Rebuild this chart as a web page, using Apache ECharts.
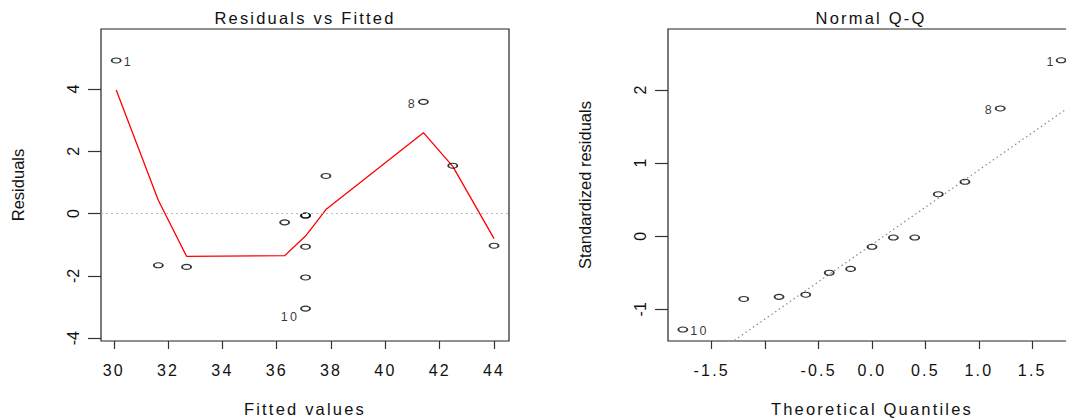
<!DOCTYPE html>
<html>
<head>
<meta charset="utf-8">
<script src="https://cdn.jsdelivr.net/npm/echarts@6/dist/echarts.min.js"></script>
<style>
  html, body { margin: 0; padding: 0; background: #fff; }
  #chart { width: 1066px; height: 419px; }
</style>
</head>
<body>
<div id="chart"></div>
<script>
const obsIds = [1, 2, 3, 4, 5, 6, 7, 8, 9, 10, 11, 12, 13];
const fittedValues = [30.09, 31.64, 32.68, 36.29, 37.06, 37.06, 37.06, 41.40, 37.06, 37.06, 37.81, 42.48, 44.00];
const residuals = [4.92, -1.66, -1.71, -0.28, -0.06, -0.06, -1.06, 3.59, -2.05, -3.05, 1.21, 1.54, -1.03];
const stdResiduals = [2.407, -0.80, -0.83, -0.145, -0.018, -0.018, -0.50, 1.749, -0.858, -1.278, 0.575, 0.745, -0.447];
const labeledIds = [1, 8, 10];

// red smoother on the residual plot
const smoothX = [30.09, 31.64, 32.68, 36.29, 37.06, 37.81, 41.40, 42.48, 44.00];
const smoothY = [3.97, 0.43, -1.37, -1.35, -0.72, 0.13, 2.60, 1.52, -0.80];

// theoretical normal quantiles (sorted)
const theoQuantiles = [-1.77, -1.20, -0.87, -0.62, -0.40, -0.20, 0, 0.20, 0.40, 0.62, 0.87, 1.20, 1.77];

// tick labels
const fittedTicks = [30, 32, 34, 36, 38, 40, 42, 44];
const residTicks = [-4, -2, 0, 2, 4];
const qqXTicks = [-1.5, -1, -0.5, 0, 0.5, 1, 1.5];
const qqXLabels = [-1.5, -0.5, 0, 0.5, 1, 1.5];
const qqYTicks = [-1, 0, 1, 2];

const FONT = "'Liberation Sans', Arial, Helvetica, sans-serif";
const ellipse = 'path://M0,3A5,3,0,1,1,10,3A5,3,0,1,1,0,3Z';
// horizontal text in the original is spread out, rotated text is not
const SPREAD = '2.2px';

// where the id labels sit next to their points
const leftLabelPos = { 1: ['right', [0, 2]], 8: ['left', [1, 2]], 10: ['left', [1, 8]] };
const rightLabelPos = { 1: ['left', [2, 2]], 8: ['left', [1, 2]], 10: ['right', [0, 1]] };

function pointItem(x, y, id, posMap) {
  const item = { value: [x, y] };
  if (labeledIds.indexOf(id) >= 0) {
    item.label = {
      show: true,
      formatter: String(id),
      position: posMap[id][0],
      offset: posMap[id][1],
      distance: 2,
      fontSize: 12.5,
      fontFamily: FONT,
      color: '#000'
    };
  }
  return item;
}

const residData = obsIds.map((id, i) => pointItem(fittedValues[i], residuals[i], id, leftLabelPos));

const order = obsIds.map((id, i) => i).sort((a, b) => stdResiduals[a] - stdResiduals[b]);
const qqData = order.map((idx, k) => pointItem(theoQuantiles[k], stdResiduals[idx], obsIds[idx], rightLabelPos));

// qq line through the quartiles, like qqline()
function quantile(sorted, p) {
  const h = (sorted.length - 1) * p;
  const lo = Math.floor(h);
  return sorted[lo] + (h - lo) * (sorted[Math.min(lo + 1, sorted.length - 1)] - sorted[lo]);
}
const sortedStd = stdResiduals.slice().sort((a, b) => a - b);
const y1 = quantile(sortedStd, 0.25), y2 = quantile(sortedStd, 0.75);
const x1 = -0.6745, x2 = 0.6745;
const qqSlope = (y2 - y1) / (x2 - x1);
const qqIntercept = y1 - qqSlope * x1;
const qqXRange = [-1.909, 1.909];
const qqLine = qqXRange.map(x => [x, qqIntercept + qqSlope * x]);

function valueAxis(gridIndex, min, max, ticks, labels, isY, name, nameGap, fmt) {
  return {
    type: 'value',
    gridIndex: gridIndex,
    min: min,
    max: max,
    name: name,
    nameLocation: 'middle',
    nameGap: nameGap,
    nameRotate: isY ? 90 : 0,
    nameTextStyle: { fontSize: 16.5, color: '#111', fontFamily: FONT },
    axisLine: { show: false, onZero: false },
    splitLine: { show: false },
    axisTick: {
      show: true,
      customValues: ticks,
      length: isY ? 13 : 8,
      lineStyle: { color: '#333', width: 1.2 }
    },
    axisLabel: {
      customValues: labels,
      rotate: isY ? 90 : 0,
      margin: isY ? 20 : 21,
      fontSize: 16,
      color: '#111',
      fontFamily: FONT,
      formatter: fmt
    }
  };
}

const chart = echarts.init(document.getElementById('chart'), null, { renderer: 'svg' });
chart.setOption({
  animation: false,
  backgroundColor: '#fff',
  title: [
    { text: 'Residuals vs Fitted', left: 305, top: 9, textAlign: 'center', padding: 0,
      textStyle: { fontSize: 16.5, fontWeight: 'normal', color: '#111', fontFamily: FONT } },
    { text: 'Normal Q-Q', left: 871, top: 9, textAlign: 'center', padding: 0,
      textStyle: { fontSize: 16.5, fontWeight: 'normal', color: '#111', fontFamily: FONT } }
  ],
  grid: [
    { left: 101, top: 29, width: 408, height: 312, show: true, borderColor: '#222', borderWidth: 1.2,
      outerBoundsMode: 'none' },
    { left: 668, top: 29, width: 408, height: 312, show: true, borderColor: '#222', borderWidth: 1.2,
      outerBoundsMode: 'none' }
  ],
  xAxis: [
    valueAxis(0, 29.53, 44.55, fittedTicks, fittedTicks, false, 'Fitted values', 59, v => String(v)),
    valueAxis(1, qqXRange[0], qqXRange[1], qqXTicks, qqXLabels, false, 'Theoretical Quantiles', 59, v => v.toFixed(1))
  ],
  yAxis: [
    valueAxis(0, -4.09, 5.93, residTicks, residTicks, true, 'Residuals', 75, v => String(v)),
    valueAxis(1, -1.434, 2.836, qqYTicks, qqYTicks, true, 'Standardized residuals', 75, v => String(v))
  ],
  series: [
    {
      type: 'line',
      xAxisIndex: 0, yAxisIndex: 0,
      data: smoothX.map((x, i) => [x, smoothY[i]]),
      symbol: 'none',
      lineStyle: { color: '#ff0000', width: 1.3 },
      z: 2,
      markLine: {
        silent: true,
        symbol: ['none', 'none'],
        label: { show: false },
        lineStyle: { color: '#bbbbbb', type: [2, 3], width: 1.2 },
        data: [{ yAxis: 0 }]
      }
    },
    {
      type: 'scatter',
      xAxisIndex: 0, yAxisIndex: 0,
      data: residData,
      symbol: ellipse,
      symbolSize: [9, 5],
      itemStyle: { color: 'rgba(0,0,0,0)', borderColor: '#000', borderWidth: 1.4 },
      z: 3
    },
    {
      type: 'line',
      xAxisIndex: 1, yAxisIndex: 1,
      data: qqLine,
      symbol: 'none',
      clip: true,
      lineStyle: { color: '#888', type: [1.5, 3], width: 1.2 },
      z: 2
    },
    {
      type: 'scatter',
      xAxisIndex: 1, yAxisIndex: 1,
      data: qqData,
      symbol: ellipse,
      symbolSize: [9, 5],
      itemStyle: { color: 'rgba(0,0,0,0)', borderColor: '#000', borderWidth: 1.4 },
      z: 3
    }
  ]
});

// spread out the letters of the horizontal texts only
function spreadText() {
  const texts = chart.getDom().querySelectorAll('text');
  texts.forEach(t => {
    const tr = t.getAttribute('transform') || '';
    const m = tr.match(/matrix\(([^)]+)\)/);
    let rotated = false;
    if (m) {
      const nums = m[1].split(/[\s,]+/).map(Number);
      rotated = Math.abs(nums[1]) > 0.5;
    }
    t.style.letterSpacing = rotated ? '0px' : SPREAD;
  });
}
spreadText();
chart.on('finished', spreadText);
</script>
</body>
</html>
